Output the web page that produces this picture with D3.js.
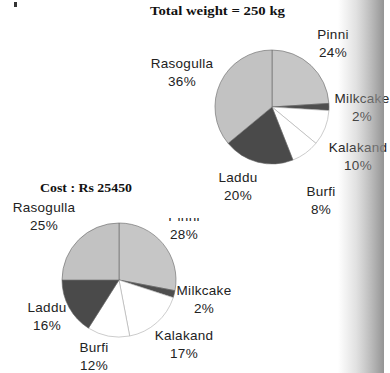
<!DOCTYPE html>
<html>
<head>
<meta charset="utf-8">
<script src="https://cdn.jsdelivr.net/npm/d3@7"></script>
<style>
  body { margin: 0; background: #fff; }
  svg { display: block; }
  .lbl { font-family: "Liberation Sans", Arial, sans-serif; font-size: 13.5px; fill: #222; letter-spacing: 0.3px; }
  .ttl { font-family: "Liberation Serif", "Times New Roman", serif; font-size: 13.5px; font-weight: bold; fill: #111; }
</style>
</head>
<body>
<div id="chart"></div>
<script>
// Data
const sweets = ["Pinni", "Milkcake", "Kalakand", "Burfi", "Laddu", "Rasogulla"];
const weightShare = [24, 2, 10, 8, 20, 36];   // % of 250 kg
const costShare = [28, 2, 17, 12, 16, 25];    // % of Rs 25450
const weightTitle = "Total weight = 250 kg";
const costTitle = "Cost : Rs 25450";

const width = 390;
const height = 373;

// light stipple for Pinni / Rasogulla, dark for Milkcake / Laddu, white for the rest
const fillScale = d3.scaleOrdinal()
    .domain(sweets)
    .range(["#c6c6c6", "#4e4e4e", "#ffffff", "#ffffff", "#4a4a4a", "#c2c2c2"]);

const svg = d3.select("#chart")
    .append("svg")
    .attr("width", width)
    .attr("height", height);

const defs = svg.append("defs");

// scanner shadow near the right edge
const grad = defs.append("linearGradient")
    .attr("id", "shadow")
    .attr("x1", "0%").attr("x2", "100%");
grad.append("stop").attr("offset", "0%").attr("stop-color", "#9a9a9a").attr("stop-opacity", 0);
grad.append("stop").attr("offset", "40%").attr("stop-color", "#9a9a9a").attr("stop-opacity", 0.3);
grad.append("stop").attr("offset", "75%").attr("stop-color", "#909090").attr("stop-opacity", 0.65);
grad.append("stop").attr("offset", "100%").attr("stop-color", "#888").attr("stop-opacity", 0.9);

const pie = d3.pie().sort(null).value(d => d.value);
const arc = d3.arc().innerRadius(0).outerRadius(57);

// label offsets from each pie's centre (name line)
const weightLabelPos = [[61, -73], [90, -9], [86, 40], [49, 84], [-34, 70], [-90, -44]];
const costLabelPos = [[65, -64], [85, 10], [65, 55], [-25, 67], [-72, 27], [-75, -73]];

function drawPie(values, cx, cy, labelPos, title, titleX, titleY, titleW, clipFirst) {
    const g = svg.append("g").attr("transform", `translate(${cx},${cy})`);
    const arcs = pie(sweets.map((s, i) => ({ name: s, value: values[i] })));

    g.selectAll("path")
        .data(arcs)
        .enter().append("path")
        .attr("d", arc)
        .attr("fill", d => fillScale(d.data.name))
        .attr("stroke", d => fillScale(d.data.name) === "#ffffff" ? "#aaa" : "#666")
        .attr("stroke-width", 0.6);

    const labels = g.selectAll(".l")
        .data(arcs)
        .enter().append("g")
        .attr("class", "l")
        .attr("transform", (d, i) => `translate(${labelPos[i][0]},${labelPos[i][1]})`);

    labels.append("text")
        .attr("class", "lbl")
        .attr("text-anchor", "middle")
        .attr("dy", "0.35em")
        .text(d => d.data.name);

    labels.append("text")
        .attr("class", "lbl")
        .attr("text-anchor", "middle")
        .attr("y", 18)
        .attr("dy", "0.35em")
        .text(d => d.data.value + "%");

    if (clipFirst) {
        // the first name is torn off in the scan; only its foot shows
        labels.filter((d, i) => i === 0).select("text")
            .attr("clip-path", "url(#tear)");
    }

    svg.append("text")
        .attr("class", "ttl")
        .attr("x", titleX)
        .attr("y", titleY)
        .attr("textLength", titleW)
        .attr("lengthAdjust", "spacingAndGlyphs")
        .text(title);
}

defs.append("clipPath")
    .attr("id", "tear")
    .append("rect")
    .attr("x", -40).attr("y", 2).attr("width", 80).attr("height", 10);

drawPie(weightShare, 272, 107, weightLabelPos, weightTitle, 150, 15, 135, false);
drawPie(costShare, 119, 280, costLabelPos, costTitle, 40, 192, 92, true);

svg.append("rect")
    .attr("x", 338)
    .attr("y", 0)
    .attr("width", 46)
    .attr("height", height)
    .attr("fill", "url(#shadow)");

// stray speck at the top-left of the scan
svg.append("rect")
    .attr("x", 14).attr("y", 2).attr("width", 3).attr("height", 5)
    .attr("fill", "#333");
</script>
</body>
</html>
